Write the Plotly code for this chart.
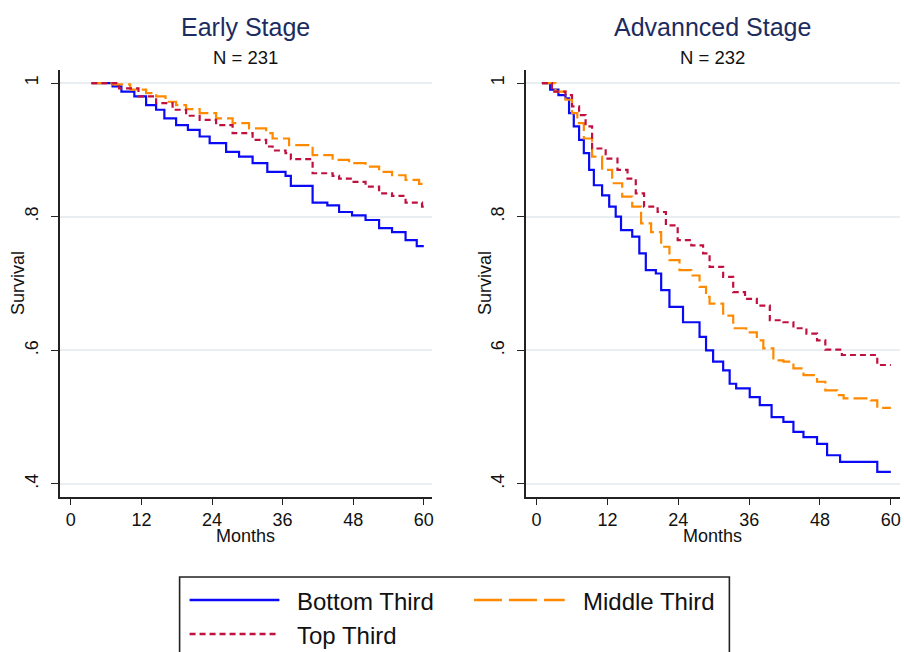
import plotly.graph_objects as go

# ---------------- data ----------------
groups = ["Bottom Third", "Middle Third", "Top Third"]
x_ticks = [0, 12, 24, 36, 48, 60]
y_ticks = [1.0, 0.8, 0.6, 0.4]
y_tick_labels = ["1", ".8", ".6", ".4"]

# Early stage (N = 231)
early_bottom_t = [3.5, 7.1, 8.6, 10.8, 12.8, 14.5, 15.9, 17.9, 19.9, 21.9, 23.6, 26.4, 28.6, 30.9, 33.4, 36.5,
                  37.4, 41.1, 43.6, 45.6, 47.8, 50.1, 52.4, 54.6, 56.9, 58.8, 60.0]
early_bottom_s = [1.000, 0.995, 0.987, 0.980, 0.967, 0.960, 0.947, 0.937, 0.930, 0.920, 0.910, 0.897, 0.890, 0.880,
                  0.867, 0.861, 0.846, 0.821, 0.817, 0.807, 0.802, 0.795, 0.783, 0.777, 0.765, 0.756, 0.756]

early_middle_t = [3.5, 7.1, 10.1, 12.8, 14.5, 16.1, 17.9, 19.6, 21.9, 24.7, 27.5, 30.3, 33.2, 34.3, 37.1,
                  41.1, 44.5, 47.3, 50.1, 52.4, 54.6, 56.9, 59.2, 60.0]
early_middle_s = [1.000, 0.998, 0.990, 0.985, 0.980, 0.972, 0.967, 0.961, 0.955, 0.947, 0.940, 0.932, 0.925, 0.917,
                  0.907, 0.892, 0.885, 0.880, 0.875, 0.867, 0.862, 0.855, 0.849, 0.848]

early_top_t = [3.5, 8.2, 11.5, 14.5, 17.3, 19.6, 21.9, 24.7, 27.5, 30.9, 33.2, 34.3, 36.5, 37.4,
               41.1, 44.5, 45.6, 47.8, 50.1, 52.4, 54.6, 56.9, 59.7, 60.0]
early_top_s = [1.000, 0.992, 0.980, 0.970, 0.960, 0.951, 0.945, 0.937, 0.925, 0.915, 0.905, 0.899, 0.895, 0.886,
               0.865, 0.861, 0.857, 0.852, 0.845, 0.835, 0.831, 0.821, 0.815, 0.814]

# Advanced stage (N = 232)
adv_bottom_t = [0.9, 2.3, 3.7, 4.9, 5.5, 6.3, 7.2, 8.0, 8.9, 9.7, 11.1, 12.3, 13.4, 14.3, 16.2, 17.4, 18.5, 20.2,
                21.1, 22.5, 24.8, 27.6, 28.7, 29.9, 31.6, 32.7, 33.8, 36.1, 37.8, 39.8, 41.8, 43.5, 45.2, 47.5,
                49.2, 51.4, 57.7, 60.0]
adv_bottom_s = [1.000, 0.990, 0.982, 0.977, 0.955, 0.935, 0.915, 0.895, 0.870, 0.847, 0.832, 0.815, 0.800, 0.780,
                0.770, 0.745, 0.720, 0.715, 0.690, 0.665, 0.642, 0.620, 0.600, 0.583, 0.570, 0.550, 0.543, 0.530,
                0.518, 0.500, 0.493, 0.478, 0.470, 0.460, 0.443, 0.433, 0.418, 0.418]

adv_middle_t = [0.9, 3.2, 4.9, 6.0, 6.9, 8.0, 9.4, 11.1, 12.8, 14.5, 16.2, 17.7, 19.4, 21.1, 22.5, 24.2, 26.2,
                27.6, 28.7, 29.3, 31.6, 33.3, 35.5, 37.3, 38.4, 40.1, 41.8, 43.5, 45.2, 47.5, 48.9, 50.9, 52.0,
                56.6, 57.7, 60.0]
adv_middle_s = [1.000, 0.987, 0.975, 0.955, 0.940, 0.917, 0.890, 0.870, 0.850, 0.830, 0.815, 0.790, 0.777, 0.755,
                0.735, 0.720, 0.712, 0.695, 0.680, 0.670, 0.652, 0.633, 0.627, 0.615, 0.603, 0.585, 0.583, 0.573,
                0.563, 0.553, 0.540, 0.533, 0.528, 0.525, 0.514, 0.514]

adv_top_t = [0.9, 2.6, 4.9, 6.0, 7.2, 8.3, 9.4, 11.7, 13.7, 15.4, 16.8, 18.2, 20.5, 21.9, 23.9, 26.2, 28.2, 29.3,
             31.6, 33.3, 35.3, 37.3, 39.5, 41.8, 43.5, 45.7, 47.5, 48.9, 51.7, 57.7, 60.0]
adv_top_s = [1.000, 0.987, 0.982, 0.965, 0.952, 0.935, 0.902, 0.887, 0.870, 0.857, 0.835, 0.815, 0.807, 0.787,
             0.765, 0.757, 0.745, 0.725, 0.710, 0.687, 0.677, 0.667, 0.645, 0.642, 0.633, 0.625, 0.615, 0.601,
             0.593, 0.578, 0.578]

panel_titles = ["Early Stage", "Advannced Stage"]
panel_subtitles = ["N = 231", "N = 232"]

# ---------------- styling ----------------
W, H = 904, 652
FONT = "Liberation Sans, Arial, Helvetica, sans-serif"
colors = {"Bottom Third": "#0a0af5", "Middle Third": "#ff8a00", "Top Third": "#c0103f"}
dashes = {"Bottom Third": "solid", "Middle Third": "14px,5px", "Top Third": "6px,4px"}
legend_dashes = {"Bottom Third": "solid", "Middle Third": "28px,7px", "Top Third": "6px,4px"}
grid_color = "#e8eef1"


def px(x):
    """window pixel x -> paper fraction"""
    return x / W


def py(y):
    """window pixel y -> paper fraction"""
    return 1 - y / H


fig = go.Figure()

series = [
    [(early_bottom_t, early_bottom_s), (early_middle_t, early_middle_s), (early_top_t, early_top_s)],
    [(adv_bottom_t, adv_bottom_s), (adv_middle_t, adv_middle_s), (adv_top_t, adv_top_s)],
]
axes_ids = [("x", "y"), ("x2", "y2")]

for p, (xa, ya) in enumerate(axes_ids):
    for g, (t, s) in zip(groups, series[p]):
        fig.add_trace(go.Scatter(
            x=t, y=s, mode="lines", line_shape="hv", name=g, showlegend=False,
            line=dict(color=colors[g], width=2.2, dash=dashes[g]),
            xaxis=xa, yaxis=ya,
        ))

x_domains = [[px(60), px(433)], [px(527), px(902)]]
y_domain = [py(497), py(70)]

common_x = dict(
    range=[-1.86, 61.4], tickvals=x_ticks, ticktext=[str(v) for v in x_ticks],
    showgrid=False, zeroline=False, showline=True, linecolor="#222", linewidth=1.6,
    ticks="outside", ticklen=6, tickwidth=1.4, tickcolor="#222",
    tickfont=dict(family=FONT, size=18, color="#111"), fixedrange=True,
)
common_y = dict(
    range=[0.3805, 1.0195], tickvals=y_ticks, ticktext=y_tick_labels, tickangle=-90,
    showgrid=True, gridcolor=grid_color, gridwidth=1.6, zeroline=False,
    showline=True, linecolor="#222", linewidth=1.6,
    ticks="outside", ticklen=7, tickwidth=1.4, tickcolor="#222", ticklabelstandoff=6,
    tickfont=dict(family=FONT, size=18, color="#111"), domain=y_domain, fixedrange=True,
)

fig.update_layout(
    width=W, height=H,
    margin=dict(l=0, r=0, t=0, b=0),
    paper_bgcolor="white", plot_bgcolor="white",
    font=dict(family=FONT, color="#111"),
    showlegend=False,
    xaxis=dict(common_x, domain=x_domains[0], anchor="y"),
    yaxis=dict(common_y, anchor="x"),
    xaxis2=dict(common_x, domain=x_domains[1], anchor="y2", range=[-1.82, 61.55]),
    yaxis2=dict(common_y, anchor="x2"),
)

annotations = []
for p in range(2):
    cx = (x_domains[p][0] + x_domains[p][1]) / 2
    annotations.append(dict(text=panel_titles[p], x=cx, y=py(27), xref="paper", yref="paper",
                            showarrow=False, xanchor="center", yanchor="middle",
                            font=dict(family=FONT, size=25, color="#1c2c60")))
    annotations.append(dict(text=panel_subtitles[p], x=cx, y=py(57), xref="paper", yref="paper",
                            showarrow=False, xanchor="center", yanchor="middle",
                            font=dict(family=FONT, size=18.5, color="#111")))
    annotations.append(dict(text="Months", x=cx, y=py(536), xref="paper", yref="paper",
                            showarrow=False, xanchor="center", yanchor="middle",
                            font=dict(family=FONT, size=18, color="#111")))
    yx = [18, 486][p]
    annotations.append(dict(text="Survival", x=px(yx), y=py(283), xref="paper", yref="paper",
                            showarrow=False, xanchor="center", yanchor="middle", textangle=-90,
                            font=dict(family=FONT, size=18, color="#111")))

# custom legend box
shapes = [dict(type="rect", xref="paper", yref="paper", x0=px(180), x1=px(731), y0=py(675), y1=py(577),
               line=dict(color="#222", width=1.6), fillcolor="rgba(0,0,0,0)")]
legend_pos = {"Bottom Third": (190, 280, 296, 600), "Middle Third": (475, 566, 582, 600),
              "Top Third": (190, 279, 296, 634)}
for g in groups:
    x0, x1, tx, yy = legend_pos[g]
    shapes.append(dict(type="line", xref="paper", yref="paper", x0=px(x0), x1=px(x1), y0=py(yy), y1=py(yy),
                       line=dict(color=colors[g], width=2.5, dash=legend_dashes[g])))
    annotations.append(dict(text=g, x=px(tx), y=py(yy + 1), xref="paper", yref="paper", showarrow=False,
                            xanchor="left", yanchor="middle", font=dict(family=FONT, size=24, color="#111")))

fig.update_layout(annotations=annotations, shapes=shapes)
# remove the default 8px page margin so the figure fills the 904x652 window exactly
fig.write_html("out.html", config={"displayModeBar": False},
               post_script="document.body.style.margin='0';document.body.style.overflow='hidden';")
